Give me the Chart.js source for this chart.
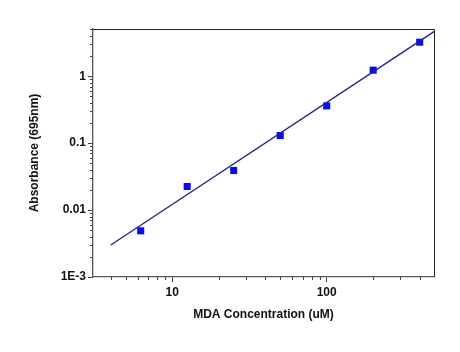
<!DOCTYPE html>
<html>
<head>
<meta charset="utf-8">
<script src="https://cdn.jsdelivr.net/npm/chart.js@4"></script>
<style>
html,body{margin:0;padding:0;background:#fff;}
#wrap{width:460px;height:352px;}
</style>
</head>
<body>
<div id="wrap"><canvas id="c" width="460" height="352"></canvas></div>
<script>
const concentrations = [6.25, 12.5, 25, 50, 100, 200, 400];
const absorbance = [0.0049, 0.0225, 0.039, 0.13, 0.36, 1.23, 3.22];
const fitX = [4, 500];
const fitY = [0.0030, 4.7];
const xMajorTicks = [10, 100];
const yMajorTicks = [0.001, 0.01, 0.1, 1];
const yTickLabels = {0.001: '1E-3', 0.01: '0.01', 0.1: '0.1', 1: '1'};
const xRange = [3.07, 495];
const yRange = [0.001, 5.07];

const FONT = "'Liberation Sans', Arial, sans-serif";

function minorValues(min, max) {
  const out = [];
  for (let e = -4; e <= 4; e++) {
    for (let m = 2; m <= 9; m++) {
      const v = m * Math.pow(10, e);
      if (v > min * 1.0001 && v < max * 0.9999) out.push(v);
    }
  }
  return out;
}

const decor = {
  id: 'decor',
  afterDraw(chart) {
    const ctx = chart.ctx;
    const a = chart.chartArea;
    const xs = chart.scales.x, ys = chart.scales.y;
    ctx.save();
    ctx.strokeStyle = '#444';
    ctx.lineWidth = 1;
    ctx.beginPath();
    minorValues(xRange[0], xRange[1]).forEach(v => {
      if (xMajorTicks.includes(v)) return;
      const px = Math.round(xs.getPixelForValue(v)) + 0.5;
      ctx.moveTo(px, a.bottom); ctx.lineTo(px, a.bottom + 3);
    });
    minorValues(yRange[0], yRange[1]).forEach(v => {
      const py = Math.round(ys.getPixelForValue(v)) + 0.5;
      ctx.moveTo(a.left, py); ctx.lineTo(a.left - 3, py);
    });
    ctx.stroke();
    ctx.strokeStyle = '#222';
    ctx.beginPath();
    ctx.moveTo(a.left, a.top + 0.5); ctx.lineTo(a.right + 0.5, a.top + 0.5);
    ctx.lineTo(a.right + 0.5, a.bottom);
    ctx.stroke();
    ctx.restore();
  }
};

new Chart(document.getElementById('c'), {
  type: 'scatter',
  data: {
    datasets: [
      {
        label: 'fit',
        data: fitX.map((x, i) => ({x, y: fitY[i]})),
        showLine: true,
        borderColor: '#22228f',
        borderWidth: 1.3,
        pointRadius: 0,
        clip: 0
      },
      {
        label: 'data',
        data: concentrations.map((x, i) => ({x, y: absorbance[i]})),
        pointStyle: 'rect',
        pointRadius: 5,
        backgroundColor: '#0a0af0',
        borderColor: '#0a0af0',
        borderWidth: 0
      }
    ]
  },
  options: {
    responsive: false,
    animation: false,
    devicePixelRatio: 1,
    layout: {padding: {left: 0, right: 26, top: 29, bottom: 26}},
    plugins: {legend: {display: false}, tooltip: {enabled: false}},
    scales: {
      x: {
        type: 'logarithmic',
        min: xRange[0], max: xRange[1],
        afterBuildTicks(s) { s.ticks = xMajorTicks.map(v => ({value: v, major: true})); },
        afterFit(s) { s.height = 49; },
        border: {display: true, color: '#555', width: 1.3},
        grid: {drawOnChartArea: false, drawTicks: true, tickLength: 5, tickColor: '#444'},
        ticks: {
          color: '#111', padding: 3, maxRotation: 0, autoSkip: false,
          font: {family: FONT, size: 12, weight: 'bold'},
          callback: v => String(v)
        },
        title: {display: true, text: 'MDA Concentration (uM)', color: '#111',
          font: {family: FONT, size: 12, weight: 'bold'}, padding: {top: 4, bottom: 4}}
      },
      y: {
        type: 'logarithmic',
        min: yRange[0], max: yRange[1],
        afterBuildTicks(s) { s.ticks = yMajorTicks.map(v => ({value: v, major: true})); },
        afterFit(s) { s.width = 93; },
        border: {display: true, color: '#555', width: 1.3},
        grid: {drawOnChartArea: false, drawTicks: true, tickLength: 5, tickColor: '#444'},
        ticks: {
          color: '#111', padding: 2, autoSkip: false,
          font: {family: FONT, size: 12, weight: 'bold'},
          callback: v => yTickLabels[v] !== undefined ? yTickLabels[v] : ''
        },
        title: {display: true, text: 'Absorbance (695nm)', color: '#111',
          font: {family: FONT, size: 12, weight: 'bold'}, padding: {top: 27, bottom: 4}}
      }
    }
  },
  plugins: [decor]
});
</script>
</body>
</html>
